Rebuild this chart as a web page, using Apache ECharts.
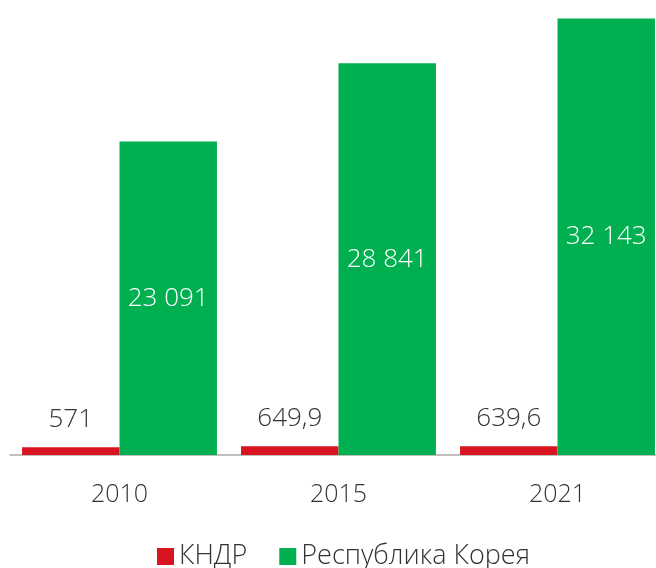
<!DOCTYPE html>
<html>
<head>
<meta charset="utf-8">
<script src="https://cdn.jsdelivr.net/npm/echarts@6/dist/echarts.min.js"></script>
<style>
html, body { margin: 0; padding: 0; background: #fff; }
#chart { width: 656px; height: 568px; }
</style>
</head>
<body>
<div id="chart"></div>
<script>
var years = ['2010', '2015', '2021'];
var dprk = [571, 649.9, 639.6];
var korea = [23091, 28841, 32143];
var seriesNames = ['КНДР', 'Республика Корея'];

function fmt(v) {
    var s = String(v).replace('.', ',');
    var parts = s.split(',');
    parts[0] = parts[0].replace(/\B(?=(\d{3})+(?!\d))/g, ' ');
    return parts.join(',');
}

var myChart = echarts.init(document.getElementById('chart'));
var font = '"Open Sans", sans-serif';
var option = {
    backgroundColor: '#fff',
    animation: false,
    textStyle: { fontFamily: font },
    grid: {
        left: 10,
        width: 657,
        top: 0,
        height: 455,
        outerBoundsMode: 'none',
        containLabel: false
    },
    legend: {
        data: seriesNames,
        top: 543,
        left: 157,
        padding: 0,
        itemWidth: 17,
        itemHeight: 17,
        itemGap: 32,
        icon: 'rect',
        textStyle: { fontSize: 27, color: '#333', fontWeight: 300, fontFamily: font }
    },
    xAxis: {
        type: 'category',
        data: years,
        axisTick: { show: false },
        axisLine: { lineStyle: { color: '#aaa', width: 1.5 } },
        axisLabel: { fontSize: 25, color: '#333', fontWeight: 300, margin: 27, fontFamily: font }
    },
    yAxis: {
        type: 'value',
        min: 0,
        max: 33500,
        show: false,
        splitLine: { show: false }
    },
    series: [
        {
            name: seriesNames[0],
            type: 'bar',
            data: dprk,
            barGap: '0%',
            barCategoryGap: '11%',
            itemStyle: { color: '#D7141F' },
            label: {
                show: true,
                position: 'top',
                distance: 15,
                fontSize: 26,
                color: '#333',
                fontWeight: 300,
                fontFamily: font,
                formatter: function (p) { return fmt(p.value); }
            }
        },
        {
            name: seriesNames[1],
            type: 'bar',
            data: korea,
            barGap: '0%',
            barCategoryGap: '11%',
            itemStyle: { color: '#00B050' },
            label: {
                show: true,
                position: 'inside',
                fontSize: 26,
                color: '#fff',
                fontWeight: 300,
                fontFamily: font,
                formatter: function (p) { return fmt(p.value); }
            }
        }
    ]
};
myChart.setOption(option);
</script>
</body>
</html>
